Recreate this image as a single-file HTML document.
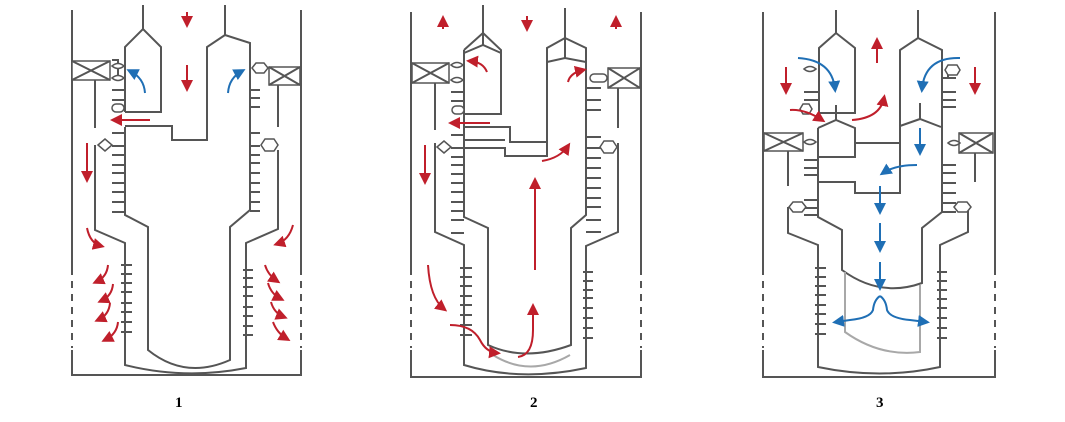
<!DOCTYPE html>
<html><head><meta charset="utf-8"><style>
html,body{margin:0;padding:0;background:#fff;width:1065px;height:422px;overflow:hidden}
svg{display:block}
.l{fill:none;stroke:#555;stroke-width:2}
.d{fill:none;stroke:#555;stroke-width:2;stroke-dasharray:7,6}
.t{stroke:#555;stroke-width:2}
.r{fill:none;stroke:#c01f2b;stroke-width:2;marker-end:url(#mr)}
.b{fill:none;stroke:#1f6fb5;stroke-width:2;marker-end:url(#mb)}
.g{fill:none;stroke:#a8a8a8;stroke-width:2}
.c{fill:#fff;stroke:#555;stroke-width:1.5}
text{font-family:"Liberation Serif",serif;font-weight:bold;font-size:15px}
</style></head><body>
<svg width="1065" height="422" viewBox="0 0 1065 422">
<defs>
<marker id="mr" markerWidth="6" markerHeight="6" refX="4" refY="3" orient="auto" markerUnits="strokeWidth"><path d="M0,0 L6,3 L0,6 z" fill="#c01f2b"/></marker>
<marker id="mb" markerWidth="6" markerHeight="6" refX="4" refY="3" orient="auto" markerUnits="strokeWidth"><path d="M0,0 L6,3 L0,6 z" fill="#1f6fb5"/></marker>
</defs>

<!-- PANEL 1 -->
<path class="l" d="M72,10 V275 M72,350 V375 H301 V350 M301,275 V10"/>
<path class="d" d="M72,281 V348 M301,281 V348"/>
<rect class="c" x="72" y="61" width="38" height="19"/><path class="t" d="M72,61 L110,80 M72,80 L110,61"/>
<rect class="c" x="269" y="67" width="31" height="18"/><path class="t" d="M269,67 L300,85 M269,85 L300,67"/>
<path class="l" d="M95,80 V128 M95,145 V230 L125,243 V365 Q185,380 246,368 V243 L278,229 V150 M278,85 V127"/>
<path class="l" d="M125,127 V215 L148,227 V350 Q185,380 230,360 V227 L250,210 V43 L225,35 L207,47 V140 H172 V126 H125"/>
<path class="l" d="M125,112 V47 L143,29 L161,47 V112 H125 M143,29 V5 M225,35 V5"/>
<path class="l" d="M112,60 H118 V77 M125,60 V112"/>
<g class="t">
<path d="M112,90H125M112,100H125M112,133H125M112,146H125M112,155H125M112,165H125M112,173H125M112,183H125M112,192H125M112,202H125M112,212H125"/>
<path d="M250,90H260M250,98H260M250,107H260M250,133H260M250,146H260M250,155H260M250,163H260M250,173H260M250,183H260M250,192H260M250,202H260M250,211H260"/>
<path d="M121,265H132M121,274H132M121,283H132M121,292H132M121,303H132M121,312H132M121,322H132M121,332H132"/>
<path d="M243,270H253M243,278H253M243,287H253M243,296H253M243,307H253M243,316H253M243,326H253M243,335H253"/>
</g>
<path class="c" d="M112,66 Q118,61 124,66 Q118,71 112,66z M112,78 Q118,73 124,78 Q118,83 112,78z"/>
<rect class="c" x="112" y="104" width="12" height="8" rx="4"/>
<path class="c" d="M98,145 L105,139 L112,145 L105,151z"/>
<path class="c" d="M252,68 L256,63 H264 L268,68 L264,73 H256z M261,145 L265,139 H274 L278,145 L274,151 H265z"/>
<path class="r" d="M187,12 V24"/><path class="r" d="M187,65 V88"/><path class="r" d="M150,120 H114"/><path class="r" d="M87,143 V179"/>
<path class="r" d="M87,228 Q90,243 101,246"/><path class="r" d="M108,265 Q107,277 96,282"/><path class="r" d="M113,284 Q112,296 101,301"/><path class="r" d="M110,303 Q109,315 98,320"/><path class="r" d="M118,322 Q117,334 105,340"/>
<path class="r" d="M293,225 Q289,240 277,244"/><path class="r" d="M265,265 Q268,275 277,281"/><path class="r" d="M268,283 Q271,294 281,299"/><path class="r" d="M271,302 Q274,313 284,317"/><path class="r" d="M273,322 Q277,333 287,339"/>
<path class="b" d="M145,93 Q144,78 130,71"/><path class="b" d="M228,93 Q229,78 242,71"/>
<text x="175" y="407">1</text>

<!-- PANEL 2 -->
<path class="l" d="M411,12 V275 M411,350 V377 H641 V350 M641,275 V12"/>
<path class="d" d="M411,281 V348 M641,281 V348"/>
<rect class="c" x="412" y="63" width="37" height="20"/><path class="t" d="M412,63 L449,83 M412,83 L449,63"/>
<rect class="c" x="608" y="68" width="32" height="20"/><path class="t" d="M608,68 L640,88 M608,88 L640,68"/>
<path class="l" d="M435,83 V130 M435,143 V232 L464,245 V365 Q520,382 586,368 V246 L618,232 V143 M618,88 V128"/>
<path class="l" d="M464,50 V217 L488,228 V345 Q525,362 571,345 V228 L586,215 V48 L565,38 L547,48 V156 H505 V148 H464"/>
<path class="l" d="M464,50 L483,33 L501,50 V114 H464 M464,53 L483,45 L501,53 M483,33 V45 M483,33 V5 M565,38 V8 M547,62 L565,58 L586,62 M565,38 V58"/>
<path class="l" d="M464,127 H510 V142 H547 M464,140 H505"/>
<g class="t">
<path d="M451,92H464M451,101H464M451,135H464M451,148H464M451,157H464M451,165H464M451,174H464M451,183H464M451,192H464M451,202H464M451,211H464M451,220H464M451,233H464"/>
<path d="M586,88H601M586,100H601M586,110H601M586,137H601M586,148H601M586,158H601M586,168H601M586,178H601M586,188H601M586,198H601M586,207H601M586,220H601M586,232H601"/>
<path d="M460,268H472M460,277H472M460,286H472M460,296H472M460,305H472M460,315H472M460,325H472M460,335H472"/>
<path d="M583,272H593M583,281H593M583,290H593M583,298H593M583,308H593M583,318H593M583,328H593M583,338H593"/>
</g>
<path class="c" d="M451,65 Q457,60 463,65 Q457,70 451,65z M451,80 Q457,75 463,80 Q457,85 451,80z"/>
<rect class="c" x="452" y="106" width="12" height="8" rx="4"/>
<path class="c" d="M437,147 L444,141 L451,147 L444,153z"/>
<rect class="c" x="590" y="74" width="17" height="8" rx="4"/>
<path class="c" d="M600,147 L604,141 H613 L617,147 L613,153 H604z"/>
<path class="g" d="M493,355 Q530,378 570,355"/>
<path class="r" d="M443,29 V19"/><path class="r" d="M527,16 V28"/><path class="r" d="M616,29 V19"/>
<path class="r" d="M487,72 Q483,62 470,61"/><path class="r" d="M568,82 Q570,73 583,70"/>
<path class="r" d="M490,123 H452"/><path class="r" d="M425,145 V181"/>
<path class="r" d="M542,161 Q560,158 568,146"/><path class="r" d="M535,270 V181"/>
<path class="r" d="M428,265 Q430,298 444,309"/><path class="r" d="M450,325 Q472,325 480,340 Q486,352 497,353"/><path class="r" d="M518,357 Q533,355 533,330 V307"/>
<text x="530" y="407">2</text>

<!-- PANEL 3 -->
<path class="l" d="M763,12 V275 M763,350 V377 H995 V350 M995,275 V12"/>
<path class="d" d="M763,281 V348 M995,281 V348"/>
<rect class="c" x="764" y="133" width="39" height="18"/><path class="t" d="M764,133 L803,151 M764,151 L803,133"/>
<rect class="c" x="959" y="133" width="34" height="20"/><path class="t" d="M959,133 L993,153 M959,153 L993,133"/>
<path class="l" d="M788,151 V186 M975,153 V182"/>
<path class="l" d="M788,207 V233 L818,245 V367 Q880,380 940,367 V245 L968,232 V207"/>
<path class="l" d="M818,128 V217 L842,230 V270 Q880,298 922,283 V228 L942,212 V50 L918,38 L900,50 V193 H855 V182 H818"/>
<path class="l" d="M819,113 V48 L836,33 L855,48 V113 H819 M836,33 V10 M918,38 V10"/>
<path class="l" d="M836,105 V120 M818,128 L836,120 L855,128 V157 H818 M855,143 H900 M900,126 L920,119 L941,127 M920,103 V119"/>
<g class="t">
<path d="M804,92H818M804,100H818M804,160H818M804,168H818M804,175H818M804,200H818M804,208H818M804,215H818"/>
<path d="M942,92H956M942,100H956M942,107H956M942,165H956M942,173H956M942,183H956M942,193H956M942,203H956M942,212H956"/>
<path d="M815,268H826M815,277H826M815,286H826M815,295H826M815,305H826M815,314H826M815,324H826M815,334H826"/>
<path d="M937,272H947M937,281H947M937,290H947M937,299H947M937,308H947M937,318H947M937,328H947M937,338H947"/>
<path d="M942,78 H956 M948,72 V78"/>
</g>
<path class="c" d="M804,69 Q810,64 816,69 Q810,74 804,69z M804,142 Q810,137 816,142 Q810,147 804,142z M948,143 Q954,138 960,143 Q954,148 948,143z"/>
<path class="c" d="M800,109 L803,104 H809 L812,109 L809,114 H803z"/>
<path class="c" d="M945,70 L948,65 H957 L960,70 L957,75 H948z"/>
<path class="c" d="M789,207 L793,202 H802 L806,207 L802,212 H793z M954,207 L958,202 H967 L971,207 L967,212 H958z"/>
<path class="g" d="M845,272 V332 Q880,357 920,352 V285"/>
<path class="r" d="M877,63 V41"/><path class="r" d="M786,67 V91"/><path class="r" d="M975,67 V91"/>
<path class="b" d="M798,58 Q832,60 835,89"/><path class="b" d="M960,58 Q925,57 922,89"/>
<path class="r" d="M790,110 Q805,109 822,120"/><path class="r" d="M852,120 Q880,118 884,98"/>
<path class="b" d="M920,128 V152"/><path class="b" d="M917,165 Q895,165 883,173"/>
<path class="b" d="M880,186 V211"/><path class="b" d="M880,223 V249"/><path class="b" d="M880,262 V287"/>
<path class="b" d="M880,296 Q874,300 873,310 Q870,318 850,320 L836,322"/><path class="b" d="M880,296 Q886,300 887,310 Q890,318 910,320 L926,322"/>
<text x="876" y="407">3</text>
</svg>
</body></html>
